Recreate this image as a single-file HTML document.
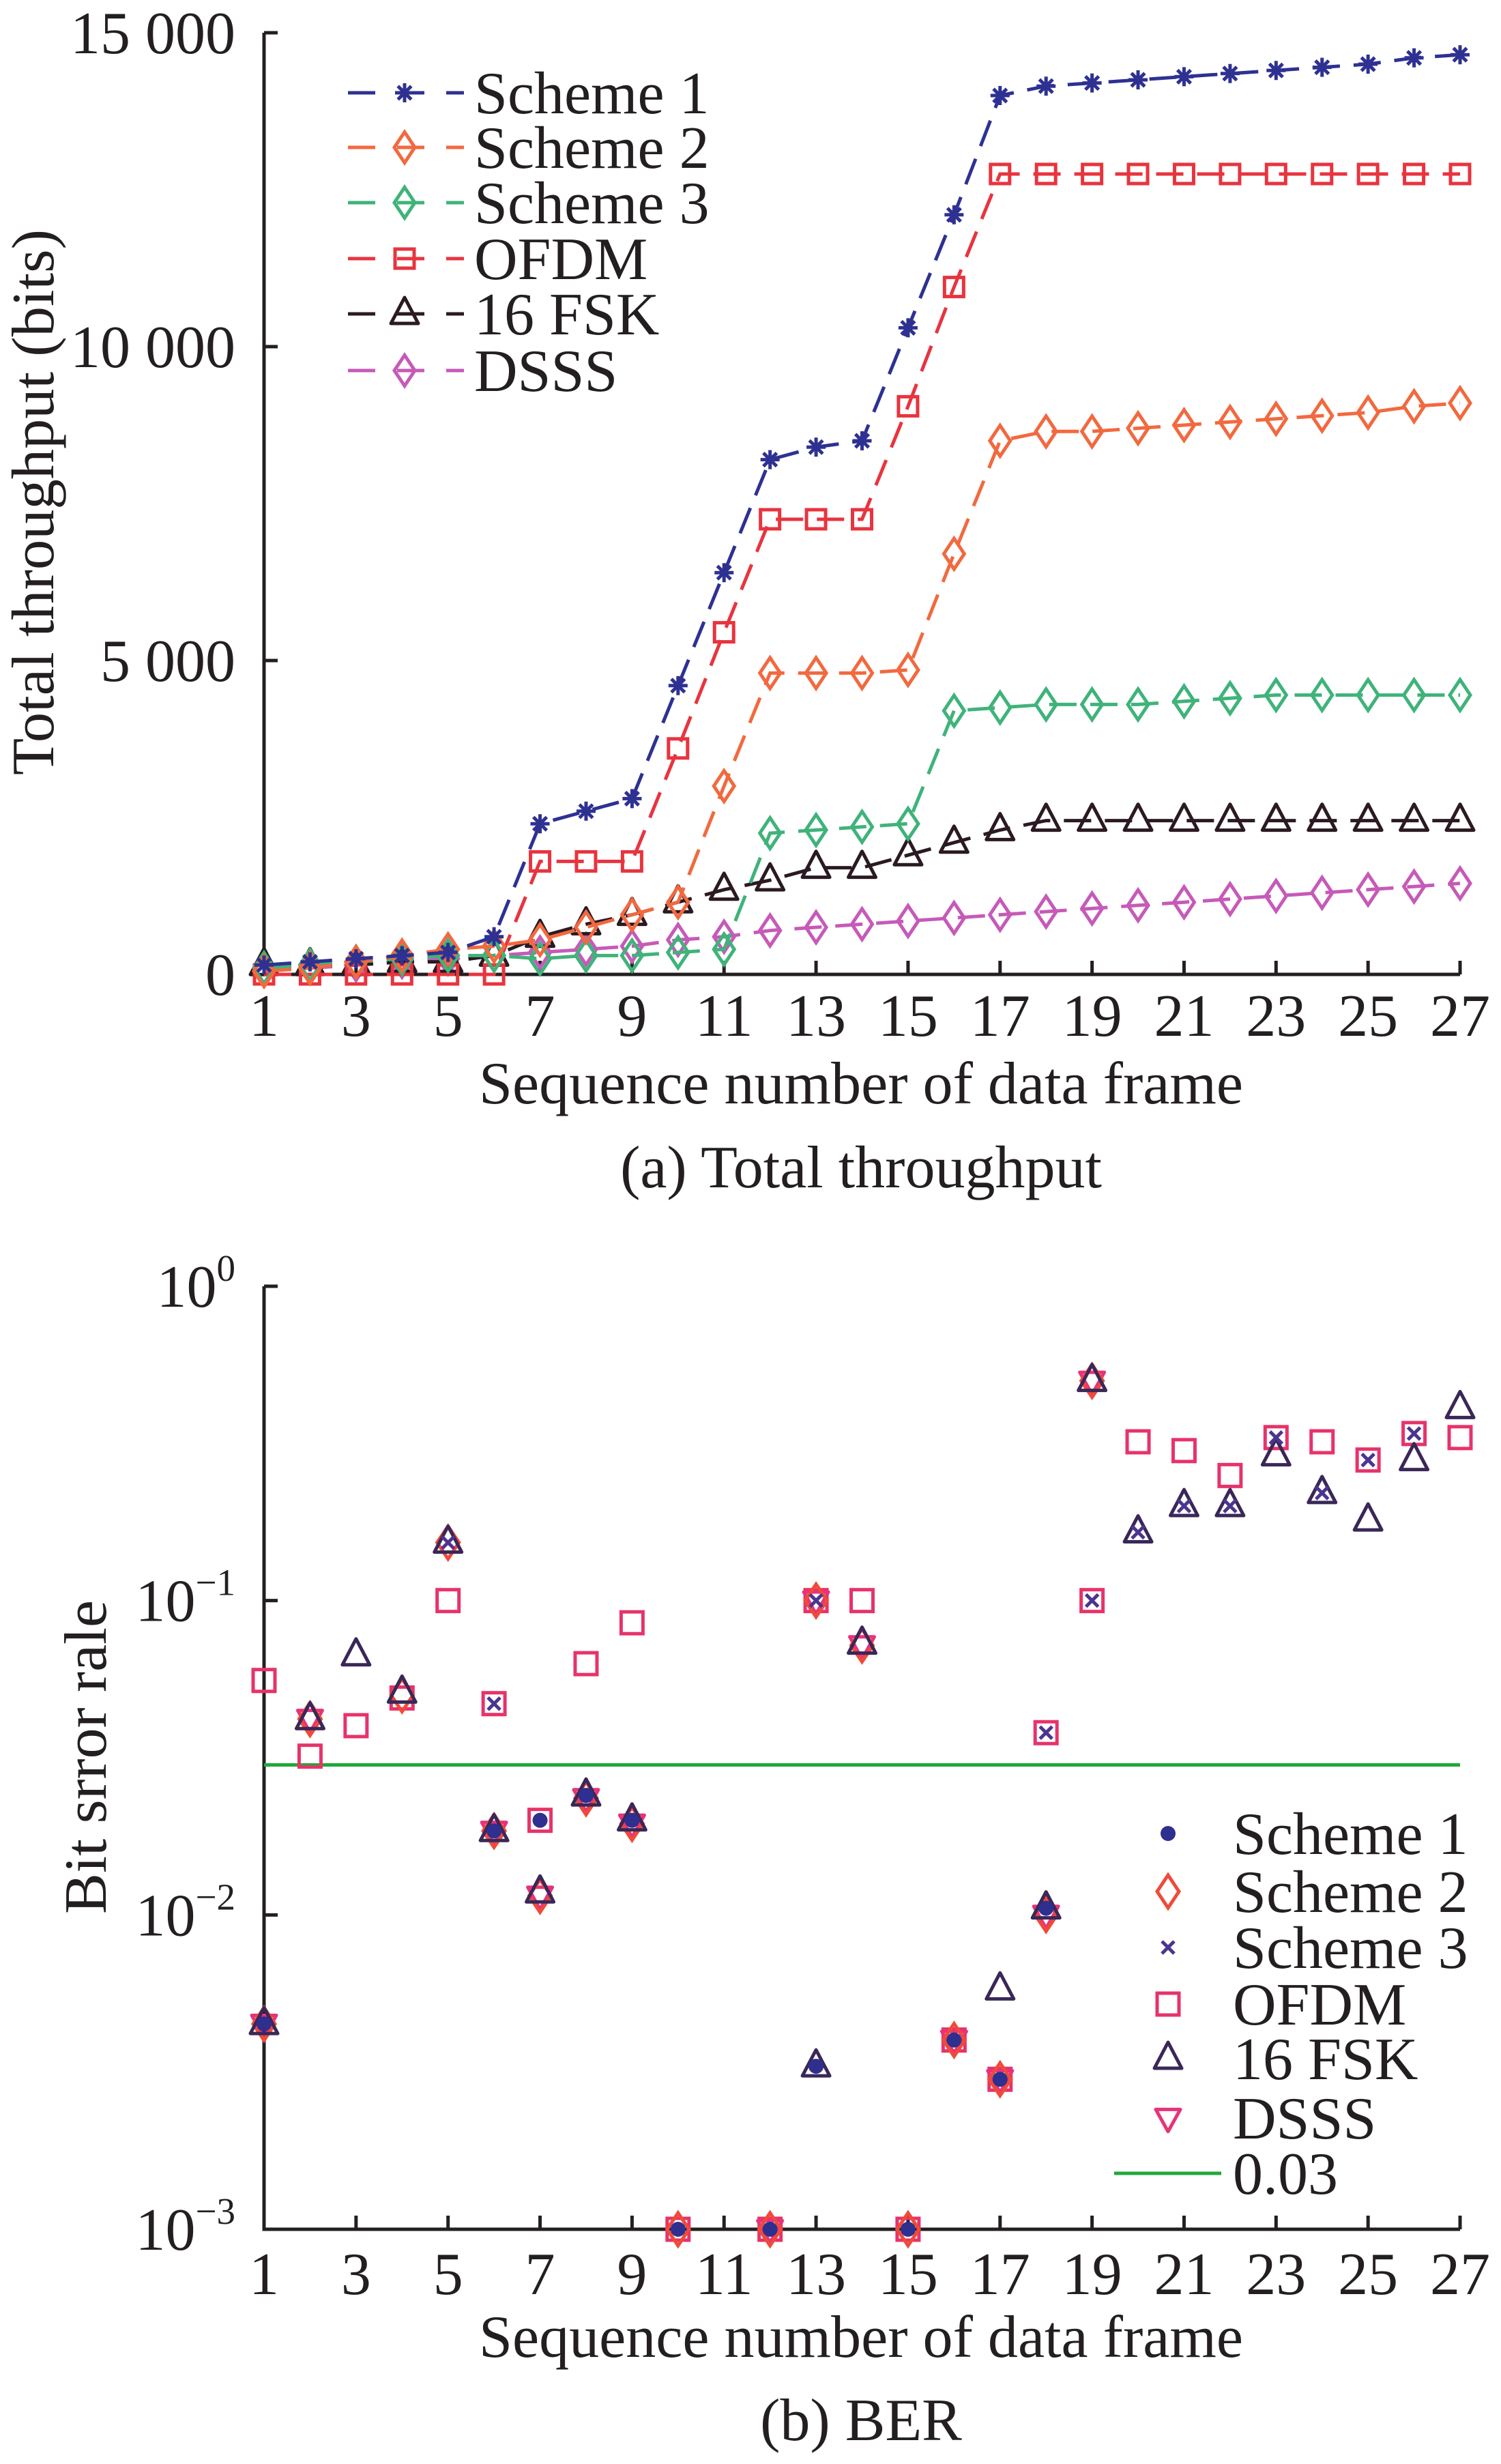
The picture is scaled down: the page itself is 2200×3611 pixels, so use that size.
<!DOCTYPE html>
<html><head><meta charset="utf-8"><style>
html,body{margin:0;padding:0;background:#fff}
svg{display:block}
text{font-family:"Liberation Serif",serif;fill:#231f20}
</style></head><body>
<svg id="fig" width="2200" height="3611" viewBox="0 0 2200 3611" xmlns="http://www.w3.org/2000/svg">
<g id="topChart"></g>
<g id="botChart"></g>
</svg>
<script>
// ---- Chart (a) data ----
const frames = [1,2,3,4,5,6,7,8,9,10,11,12,13,14,15,16,17,18,19,20,21,22,23,24,25,26,27];
const xTicks = [1,3,5,7,9,11,13,15,17,19,21,23,25,27];
const yTicksA = [0,5000,10000,15000];
const yTickLabelsA = ["0","5 000","10 000","15 000"];
const scheme1 = [150,200,250,300,350,600,2400,2600,2800,4600,6400,8200,8400,8500,10300,12100,14000,14150,14200,14250,14300,14350,14400,14450,14500,14600,14650];
const scheme2 = [50,100,200,300,400,450,550,750,950,1150,3000,4800,4800,4800,4850,6700,8500,8650,8650,8700,8750,8800,8850,8900,8950,9050,9100];
const scheme3 = [100,150,200,250,300,300,250,300,300,350,400,2250,2300,2350,2400,4200,4250,4300,4300,4300,4350,4400,4450,4450,4450,4450,4450];
const ofdm = [0,0,0,0,0,0,1800,1800,1800,3600,5450,7250,7250,7250,9050,10950,12750,12750,12750,12750,12750,12750,12750,12750,12750,12750,12750];
const fsk16 = [150,150,150,200,200,300,600,800,950,1150,1350,1500,1700,1700,1900,2100,2300,2450,2450,2450,2450,2450,2450,2450,2450,2450,2450];
const dsss = [100,100,150,200,250,300,350,400,450,550,600,700,750,800,850,900,950,1000,1050,1100,1150,1200,1250,1300,1350,1400,1450];

// ---- Chart (b) data (null = no marker) ----
const n = null;
const berScheme1 = [0.0045,n,n,n,n,0.0185,0.02,0.024,0.02,0.001,n,0.001,0.0033,n,0.001,0.004,0.003,0.0105,n,n,n,n,n,n,n,n,n];
const berScheme2 = [0.0045,0.042,n,0.05,0.153,0.0185,0.0115,0.0235,0.0195,0.001,n,0.001,0.1,0.072,0.001,0.004,0.003,0.01,0.5,n,n,n,n,n,n,n,n];
const berScheme3 = [n,n,n,n,0.153,0.047,n,n,n,n,n,n,0.1,n,n,n,n,0.038,0.1,0.165,0.2,0.2,0.33,0.22,0.28,0.34,n];
const berOfdm = [0.0557,0.032,0.040,0.049,0.1,0.047,0.02,0.063,0.085,0.001,n,0.001,0.1,0.1,0.001,0.004,0.003,0.038,0.1,0.32,0.30,0.25,0.33,0.32,0.28,0.34,0.33];
const berFsk = [0.0045,0.042,0.067,0.051,0.153,0.0185,0.0118,0.024,0.02,n,n,n,0.0033,0.073,n,n,0.0058,0.0105,0.5,0.165,0.2,0.2,0.29,0.22,0.18,0.28,0.41];
const berDsss = [0.0045,0.042,n,n,n,0.0185,0.0115,0.0235,0.0195,n,n,0.001,0.1,0.072,n,0.004,0.003,0.01,0.5,n,n,n,n,n,n,n,n];
const yTicksB = [-3,-2,-1,0];
const threshold = 0.03;

const NS="http://www.w3.org/2000/svg";
function mk(tag, attrs, parent){const e=document.createElementNS(NS,tag);for(const k in attrs)e.setAttribute(k,attrs[k]);parent.appendChild(e);return e;}

const X0=387, X1=2140;
function xs(f){return X0+(f-1)/26*(X1-X0);}
const A_Y0=1428, A_Y1=48;
function ya(v){return A_Y0-(v/15000)*(A_Y0-A_Y1);}
const B_Y0=3267, B_Y1=1885;
function yb(v){return B_Y0-(Math.log10(v)+3)/3*(B_Y0-B_Y1);}

function marker(g,type,x,y,color,s){
  let e;
  if(type==='star'){
    e=mk('path',{d:`M${x-s},${y}H${x+s}M${x},${y-s}V${y+s}M${x-s*.7},${y-s*.7}L${x+s*.7},${y+s*.7}M${x-s*.7},${y+s*.7}L${x+s*.7},${y-s*.7}`,stroke:color,'stroke-width':5,fill:'none'},g);
  }else if(type==='dot'){
    e=mk('circle',{cx:x,cy:y,r:s,fill:color},g);
  }else if(type==='diamond'){
    e=mk('path',{d:`M${x},${y-s*1.5}L${x+s},${y}L${x},${y+s*1.5}L${x-s},${y}Z`,stroke:color,'stroke-width':5,fill:'none'},g);
  }else if(type==='square'){
    e=mk('rect',{x:x-s,y:y-s,width:2*s,height:2*s,stroke:color,'stroke-width':5,fill:'none'},g);
  }else if(type==='tri'){
    e=mk('path',{d:`M${x},${y-s*1.2}L${x+s},${y+s*.7}L${x-s},${y+s*.7}Z`,stroke:color,'stroke-width':5,fill:'none','stroke-linejoin':'round'},g);
  }else if(type==='dtri'){
    e=mk('path',{d:`M${x},${y+s*1.1}L${x+s},${y-s*.7}L${x-s},${y-s*.7}Z`,stroke:color,'stroke-width':5,fill:'none','stroke-linejoin':'round'},g);
  }else if(type==='x'){
    e=mk('path',{d:`M${x-s},${y-s}L${x+s},${y+s}M${x-s},${y+s}L${x+s},${y-s}`,stroke:color,'stroke-width':5,fill:'none'},g);
  }
  return e;
}

function axes(g, y0, y1, labelY){
  const ax=mk('path',{d:`M${X0},${y1}V${y0}H${X1}`,stroke:'#231f20','stroke-width':5,fill:'none'},g);
  
  
  xTicks.forEach(f=>{
    const t=mk('line',{x1:xs(f),x2:xs(f),y1:y0,y2:y0-20,stroke:'#231f20','stroke-width':5},g);
    
    
    const l=mk('text',{x:xs(f),y:labelY,'font-size':88,'text-anchor':'middle'},g);
    l.textContent=f;
    
    
  });
}

// ---------- chart (a) ----------
const topG=document.getElementById('topChart');
axes(topG,A_Y0,A_Y1,1518);
yTicksA.forEach((v,i)=>{
  const t=mk('line',{x1:X0,x2:X0+20,y1:ya(v),y2:ya(v),stroke:'#231f20','stroke-width':5},topG);
  
  
  const l=mk('text',{x:345,y:ya(v)+30,'font-size':88,'text-anchor':'end'},topG);
  l.textContent=yTickLabelsA[i];
  
  
});
const seriesA=[
 {name:'Scheme 1',d:scheme1,c:'#2e3192',m:'star',s:14},
 {name:'Scheme 2',d:scheme2,c:'#f2693f',m:'diamond',s:15},
 {name:'Scheme 3',d:scheme3,c:'#3fb37a',m:'diamond',s:15},
 {name:'OFDM',d:ofdm,c:'#e8343f',m:'square',s:14},
 {name:'16 FSK',d:fsk16,c:'#2b1a22',m:'tri',s:20},
 {name:'DSSS',d:dsss,c:'#c65ab8',m:'diamond',s:15}
];
seriesA.slice().reverse().forEach(S=>{
  const g=mk('g',{},topG);
  
  
  const p=mk('polyline',{points:frames.map((f,i)=>xs(f)+','+ya(S.d[i])).join(' '),stroke:S.c,'stroke-width':5,fill:'none','stroke-dasharray':'40 20'},g);
  
  
  frames.forEach((f,i)=>{
    const m=marker(g,S.m,xs(f),ya(S.d[i]),S.c,S.s);
    
    
  });
});
const legA=mk('g',{},topG);


const legAY=[136,216,297,379,460,543];
seriesA.forEach((S,i)=>{
  const y=legAY[i];
  const ln=mk('line',{x1:510,x2:680,y1:y,y2:y,stroke:S.c,'stroke-width':5,'stroke-dasharray':'40 32'},legA);
  
  
  const m=marker(legA,S.m,593,y,S.c,S.s);
  
  
  const t=mk('text',{x:695,y:y+30,'font-size':88},legA);
  t.textContent=S.name;
  
  
});
let tt=mk('text',{x:1262,y:1617,'font-size':88,'text-anchor':'middle',textLength:1120,lengthAdjust:'spacingAndGlyphs'},topG);
tt.textContent='Sequence number of data frame';


tt=mk('text',{x:0,y:0,'font-size':88,'text-anchor':'middle',transform:'translate(78,736) rotate(-90)',textLength:800,lengthAdjust:'spacingAndGlyphs'},topG);
tt.textContent='Total throughput (bits)';


tt=mk('text',{x:1262,y:1740,'font-size':88,'text-anchor':'middle'},topG);
tt.textContent='(a) Total throughput';



// ---------- chart (b) ----------
const botG=document.getElementById('botChart');
axes(botG,B_Y0,B_Y1,3362);
yTicksB.forEach(e=>{
  const y=yb(Math.pow(10,e));
  const t=mk('line',{x1:X0,x2:X0+20,y1:y,y2:y,stroke:'#231f20','stroke-width':5},botG);
  
  
  const l=mk('text',{x:345,y:y+30,'font-size':88,'text-anchor':'end'},botG);
  
  
  const b=mk('tspan',{},l); b.textContent='10';
  const s=mk('tspan',{dy:-38,'font-size':55}, l); s.textContent=(e===0?'0':'\u2212'+(-e));
});
const th=mk('line',{x1:X0,x2:X1,y1:yb(threshold),y2:yb(threshold),stroke:'#22a83a','stroke-width':5},botG);


const seriesB=[
 {name:'Scheme 1',d:berScheme1,c:'#2e2f8f',m:'dot',s:11},
 {name:'Scheme 2',d:berScheme2,c:'#ef4a3a',m:'diamond',s:16},
 {name:'Scheme 3',d:berScheme3,c:'#4b3590',m:'x',s:9},
 {name:'OFDM',d:berOfdm,c:'#e8326a',m:'square',s:16},
 {name:'16 FSK',d:berFsk,c:'#3a2758',m:'tri',s:20},
 {name:'DSSS',d:berDsss,c:'#e8327a',m:'dtri',s:18}
];
const drawOrder=[3,5,1,4,0,2];
drawOrder.forEach(k=>{
  const S=seriesB[k];
  const g=mk('g',{},botG);
  
  
  frames.forEach((f,i)=>{
    if(S.d[i]==null)return;
    const m=marker(g,S.m,xs(f),yb(S.d[i]),S.c,S.s);
    
    
  });
});
const legB=mk('g',{},botG);


const legBY=[2687,2772,2854,2937,3017,3104,3185];
seriesB.forEach((S,i)=>{
  const m=marker(legB,S.m,1712,legBY[i],S.c,S.s);
  
  
  const t=mk('text',{x:1807,y:legBY[i]+30,'font-size':88},legB);
  t.textContent=S.name;
  
  
});
const lt=mk('line',{x1:1633,x2:1790,y1:3185,y2:3185,stroke:'#22a83a','stroke-width':5},legB);


const lt2=mk('text',{x:1807,y:3215,'font-size':88},legB);
lt2.textContent='0.03';


tt=mk('text',{x:1262,y:3454,'font-size':88,'text-anchor':'middle',textLength:1120,lengthAdjust:'spacingAndGlyphs'},botG);
tt.textContent='Sequence number of data frame';


tt=mk('text',{x:0,y:0,'font-size':88,'text-anchor':'middle',transform:'translate(155,2575) rotate(-90)',textLength:460,lengthAdjust:'spacingAndGlyphs'},botG);
tt.textContent='Bit srror rale';


tt=mk('text',{x:1262,y:3576,'font-size':88,'text-anchor':'middle'},botG);
tt.textContent='(b) BER';


</script>
</body></html>
